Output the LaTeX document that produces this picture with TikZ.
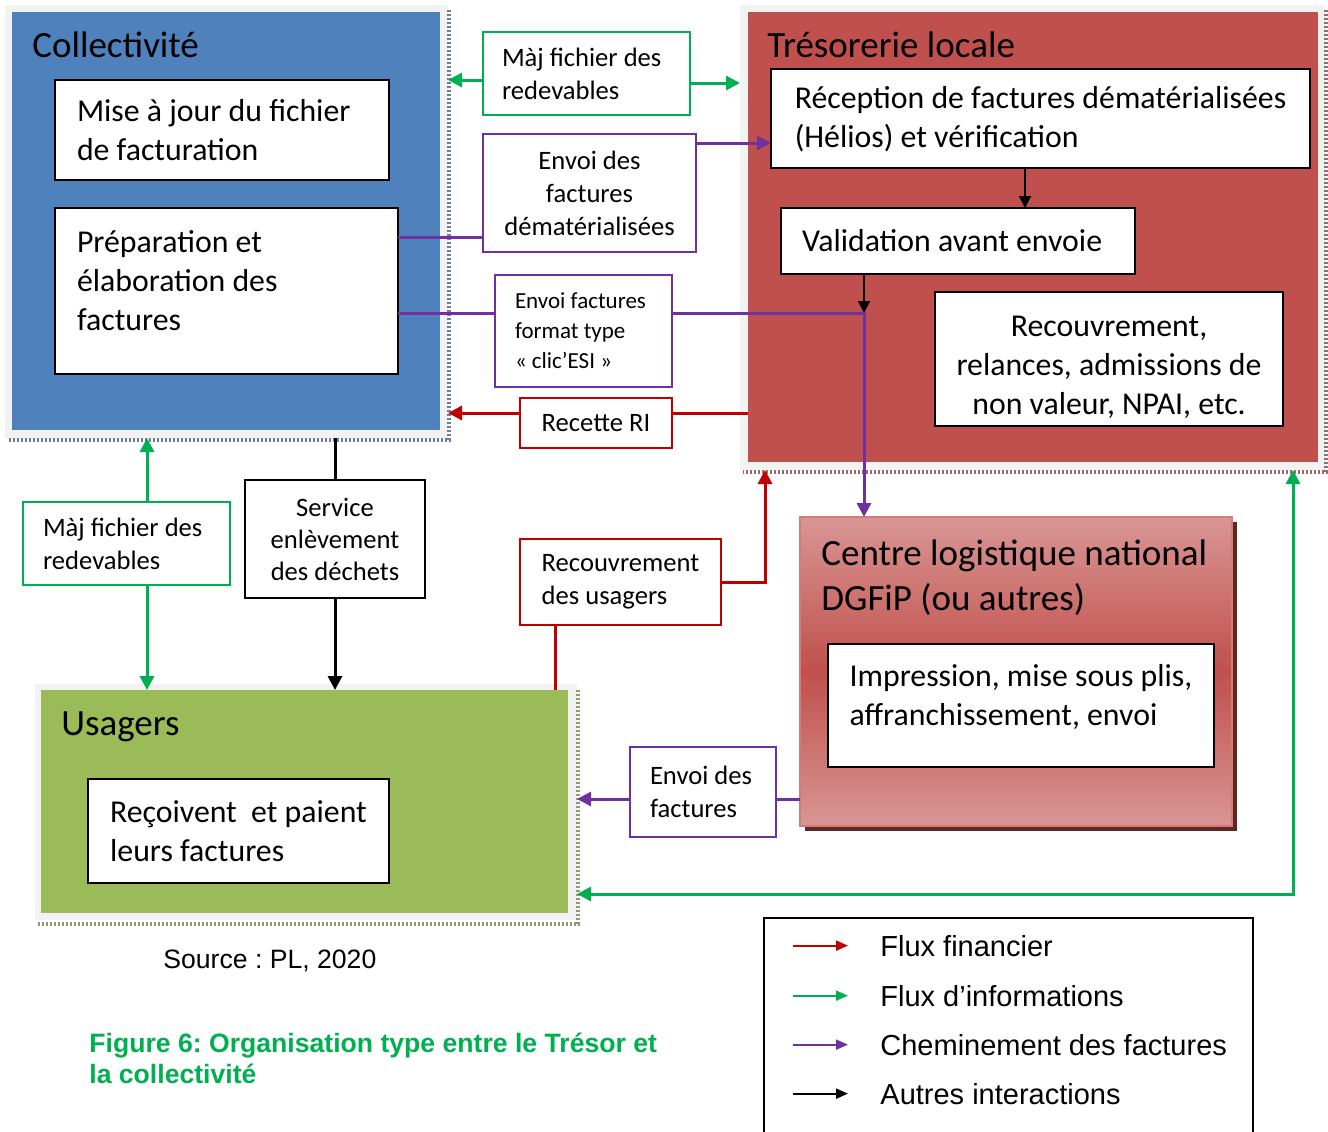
\documentclass[tikz,border=0pt]{standalone}
\usepackage{fontspec}
\setmainfont{Carlito}
\newfontfamily\arialfont{Liberation Sans}
\usetikzlibrary{arrows.meta,calc}
\frenchspacing

\definecolor{collblue}{HTML}{4F81BD}
\definecolor{tresred}{HTML}{C0504D}
\definecolor{usgreen}{HTML}{9BBB59}
\definecolor{infogreen}{HTML}{00B050}
\definecolor{finred}{HTML}{C00000}
\definecolor{factpurple}{HTML}{7030A0}
\definecolor{centrelight}{HTML}{D99694}
\definecolor{centreshadow}{HTML}{632523}
\definecolor{framegray}{HTML}{F2F2F2}

\newcommand\fTitle{\fontsize{18.5}{22.5}\selectfont}
\newcommand\fBox{\fontsize{15.9}{19.5}\selectfont}
\newcommand\fLabel{\fontsize{13.3}{16.5}\selectfont}
\newcommand\fSmall{\fontsize{11.5}{15}\selectfont}
\newcommand\fLegend{\arialfont\fontsize{14.5}{17}\selectfont}
\newcommand\fSource{\arialfont\fontsize{13.3}{16}\selectfont}
\newcommand\fCaption{\arialfont\bfseries\fontsize{13.3}{15.5}\selectfont}

\tikzset{
  panel/.style={anchor=north west, inner sep=0pt, outer sep=0pt},
  boxtext/.style={draw=black, line width=1pt, fill=white, anchor=north west, inner ysep=0pt, outer sep=0pt, font=\fBox, align=flush left},
  flowbox/.style={draw=#1, line width=1pt, fill=white, anchor=north west, inner ysep=0pt, outer sep=0pt, font=\fLabel},
  paneltitle/.style={anchor=base west, inner sep=0pt, font=\fTitle},
  dotband/.style={draw=#1, line width=2pt, dash pattern=on 1pt off 1pt},
  fin/.style={draw=finred, line width=1.5pt},
  info/.style={draw=infogreen, line width=1.5pt},
  fact/.style={draw=factpurple, line width=1.5pt},
  autre/.style={draw=black, line width=1.5pt},
  headend/.style={-{Triangle[length=7pt,width=7pt]}},
  legendtext/.style={anchor=base west, inner sep=0pt, font=\fLegend},
}

\begin{document}
\begin{tikzpicture}[x=0.5pt,y=0.5pt,yscale=-1]
\useasboundingbox (0,0) rectangle (1328,1131);

%Collectivite panel
    \node[panel, fill=framegray, minimum width=221.5pt, minimum height=216.5pt] (collf) at (5,5) {};
    \node[panel, fill=collblue, minimum width=214pt, minimum height=209pt] (coll) at (12,12) {};
    \draw[dotband=collblue!45!gray] ($(collf.north east)+(1,5)$) |- ($(collf.south west)+(3,2)$);
    \node[paneltitle] (colltitle) at (32,57) {Collectivité};
    \node[boxtext, minimum width=167pt, minimum height=50pt, text width=145pt, inner xsep=11pt] (maj) at (55,80) {Mise à jour du fichier\\de facturation};
    \node[boxtext, minimum width=171.5pt, minimum height=83pt, text width=149.5pt, inner xsep=11pt, text depth=50pt] (prep) at (55,208) {Préparation et\\élaboration des\\factures};

%Tresorerie panel
    \node[panel, fill=framegray, minimum width=292.5pt, minimum height=232.5pt] (tresf) at (740,5) {};
    \node[panel, fill=tresred, minimum width=285pt, minimum height=225pt] (tres) at (748,12) {};
    \draw[dotband=tresred!40!gray] ($(tresf.north east)+(1,5)$) |- ($(tresf.south west)+(3,2)$);
    \node[paneltitle] (trestitle) at (767,57) {Trésorerie locale};
    \node[boxtext, minimum width=269.5pt, minimum height=49.5pt, text depth=1.5pt] (recep) at (771,69) {Réception de factures dématérialisées\\(Hélios) et vérification};
    \node[boxtext, minimum width=177pt, minimum height=33pt, text width=156pt, inner xsep=10.5pt] (valid) at (781,208) {Validation avant envoie};
    \node[boxtext, align=flush center, minimum width=174pt, minimum height=67pt, text width=160pt, inner xsep=7pt, text depth=33pt] (recouv) at (935,292) {Recouvrement,\\relances, admissions de\\non valeur, NPAI, etc.};

%Centre logistique
    \fill[centreshadow] (805,522) rectangle (1237,831);
    \node[panel, draw=tresred!75!white, line width=1pt, top color=centrelight, bottom color=centrelight, middle color=tresred, minimum width=216pt, minimum height=154.5pt] (centre) at (800,517) {};
    \node[paneltitle] (ctitle1) at (821,565) {Centre logistique national};
    \node[paneltitle] (ctitle2) at (821,610) {DGFiP (ou autres)};
    \node[boxtext, minimum width=193pt, minimum height=61.5pt, text depth=11pt] (imp) at (828,644) {Impression, mise sous plis,\\affranchissement, envoi};

%Usagers panel
    \node[panel, fill=framegray, minimum width=271pt, minimum height=118pt] (usf) at (35,684) {};
    \node[panel, fill=usgreen, minimum width=263.5pt, minimum height=111.5pt] (us) at (41,690) {};
    \draw[dotband=usgreen!45!gray] ($(usf.north east)+(1,6)$) |- ($(usf.south west)+(3,4)$);
    \node[paneltitle] (ustitle) at (61,735) {Usagers};
    \node[boxtext, minimum width=150.5pt, minimum height=52pt] (recoit) at (88,779) {Reçoivent\ \ et paient\\leurs factures};

%Flow labels
    \node[flowbox=infogreen, align=flush left, minimum width=103.5pt, minimum height=41.5pt, text width=84.5pt, inner xsep=9.5pt] (majtop) at (483,32) {Màj fichier des\\redevables};
    \node[flowbox=factpurple, align=flush center, minimum width=106.5pt, minimum height=59pt, text width=90pt, inner xsep=8.25pt] (envdem) at (483,134) {Envoi des\\factures\\dématérialisées};
    \node[flowbox=factpurple, align=flush left, font=\fSmall, minimum width=88.5pt, minimum height=56pt, text width=68.5pt, inner xsep=10pt] (clic) at (495,275) {Envoi factures\\format type\\« clic’ESI »};
    \node[flowbox=finred, align=center, minimum width=76pt, minimum height=25pt] (recette) at (520,398) {Recette RI};
    \node[flowbox=finred, align=left, minimum width=100.5pt, minimum height=43pt] (recus) at (520,539) {Recouvrement\\des usagers};
    \node[flowbox=infogreen, align=flush left, minimum width=103.5pt, minimum height=41.5pt, text width=83.5pt, inner xsep=10pt] (majleft) at (23,502) {Màj fichier des\\redevables};
    \node[flowbox=black, align=center, font=\fontsize{13.3}{16}\selectfont, minimum width=90pt, minimum height=59pt] (service) at (245,480) {Service\\enlèvement\\des déchets};
    \node[flowbox=factpurple, align=flush left, minimum width=73pt, minimum height=45pt, text width=53pt, inner xsep=10pt] (envfact) at (630,747) {Envoi des\\factures};

%Connector anchors
    \coordinate (mtl) at ($(majtop.west)+(0,6.5)$);
    \coordinate (mtr) at ($(majtop.east)+(0,9.5)$);
    \coordinate (pv) at ($(prep.north east)+(0,29)$);
    \coordinate (ev) at ($(envdem.north east)+(0,9)$);
    \coordinate (jn) at ($(valid.south west)+(83,39)$);
    \coordinate (rv) at ($(recep.south)+(-15.5,0)$);
    \coordinate (rr) at ($(recette.north)+(0,15)$);
    \coordinate (ef) at ($(envfact.west)+(0,7)$);
    \coordinate (gb) at ($(usf.south east)+(716,-26)$);
    \coordinate (rb) at ($(recus.south west)+(35,0)$);
    \coordinate (rt) at ($(recus.east)+(44,0)$);
    \coordinate (ml) at ($(majleft.north)+(20.5,0)$);

%Flux d'informations
    \draw[info, headend] (mtl) -- (mtl -| collf.east);
    \draw[info, headend] (mtr) -- (mtr -| tresf.west);
    \draw[info, headend] (ml) -- (ml |- collf.south);
    \draw[info, headend] (ml |- majleft.south) -- (ml |- us.north);
    \draw[info, {Triangle[length=7pt,width=7pt]}-{Triangle[length=7pt,width=7pt]}] (gb -| usf.east) -- (gb) -- (gb |- tresf.south);

%Cheminement des factures
    \draw[autre, line width=1pt, -{Triangle[length=6pt,width=6pt]}] (rv) -- (rv |- valid.north);
    \draw[autre, line width=1pt, -{Triangle[length=6pt,width=6pt]}] (valid.south -| jn) -- (jn);
    \draw[fact] (pv) -- (pv -| envdem.west);
    \draw[fact, headend] (ev) -- (ev -| recep.west);
    \draw[fact] (jn -| prep.east) -- (jn -| clic.west);
    \draw[fact, headend] (jn -| clic.east) -- (jn) -- (jn |- centre.north);
    \draw[fact] (ef -| centre.west) -- (ef -| envfact.east);
    \draw[fact, headend] (ef -| envfact.west) -- (ef -| usf.east);

%Flux financier
    \draw[fin] (rr -| tres.west) -- (rr -| recette.east);
    \draw[fin, headend] (rr -| recette.west) -- (rr -| collf.east);
    \draw[fin] (rb |- us.north) -- (rb);
    \draw[fin, headend] (recus.east) -- (rt) -- (rt |- tresf.south);

%Autres interactions
    \draw[autre] (service.north |- collf.south) -- (service.north);
    \draw[autre, headend] (service.south) -- (service.south |- us.north);

%Source and caption
    \node[anchor=base west, inner sep=0pt, font=\fSource] (source) at (163,968) {Source : PL, 2020};
    \node[anchor=north west, inner sep=0pt, align=left, font=\fCaption, text=infogreen] (caption) at (89,1033) {Figure 6: Organisation type entre le Trésor et\\la collectivité};

%Legend
    \node[panel, draw=black, line width=1pt, minimum width=244.5pt, minimum height=120pt] (legend) at (764,918) {};
    \node[legendtext] (lg1) at (880,956) {Flux financier};
    \node[legendtext] (lg2) at (880,1006) {Flux d’informations};
    \node[legendtext] (lg3) at (880,1055) {Cheminement des factures};
    \node[legendtext] (lg4) at (880,1104) {Autres interactions};
    \foreach \lg/\col in {lg1/finred, lg2/infogreen, lg3/factpurple, lg4/black}
      \draw[draw=\col, line width=1pt, -{Triangle[length=6pt,width=5pt]}] ($(\lg.west)+(-87,0)$) -- ($(\lg.west)+(-32,0)$);

\end{tikzpicture}
\end{document}
